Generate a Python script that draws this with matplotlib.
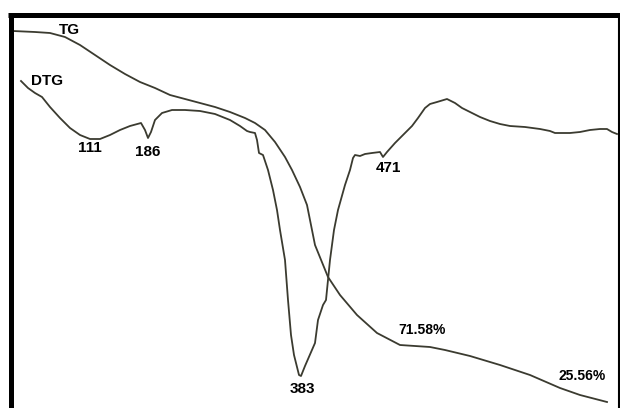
import numpy as np
import matplotlib.pyplot as plt

plt.rcParams['font.family'] = ['Liberation Sans', 'DejaVu Sans']

# curves (x, y in picture units, y grows downwards)
tg_x = [13, 35, 50, 65, 80, 95, 110, 125, 140, 155, 170, 185, 200, 215, 230,
        245, 255, 265, 275, 285, 292, 300, 307, 315, 328, 340, 357, 377, 400,
        430, 445, 470, 500, 530, 560, 580, 607]
tg_y = [31, 32, 33, 37, 45, 55, 65, 74, 82, 88, 95, 99, 103, 107, 112,
        118, 123, 130, 142, 157, 170, 187, 205, 245, 277, 295, 315, 333, 345,
        347, 350, 356, 365, 375, 388, 395, 402]

dtg_x = [21, 28, 35, 42, 50, 60, 70, 80, 90, 100, 110, 120, 130, 141, 145,
         148, 151, 155, 162, 172, 185, 200, 215, 230, 240, 247, 250, 255, 257,
         259, 263, 268, 273, 277, 280, 285, 288, 291, 294, 299, 301, 305, 315,
         318, 323, 326, 328, 330, 334, 338, 345, 350, 353, 355, 360, 365, 372,
         380, 383, 387, 395, 403, 412, 418, 425, 430, 437, 447, 455, 462, 470,
         480, 490, 500, 510, 525, 540, 550, 555, 570, 580, 590, 600, 607, 612,
         617]
dtg_y = [81, 88, 93, 97, 107, 118, 128, 135, 139, 139, 135, 130, 126, 123, 130,
         138, 132, 120, 113, 110, 110, 111, 114, 120, 126, 131, 132, 133, 140,
         153, 155, 170, 190, 210, 230, 260, 300, 335, 355, 375, 376, 366, 343,
         320, 305, 300, 280, 260, 230, 210, 185, 170, 158, 155, 156, 154, 153,
         152, 157, 152, 143, 135, 126, 118, 108, 104, 102, 99, 103, 108, 112,
         117, 121, 124, 126, 127, 129, 131, 133, 133, 132, 130, 129, 129, 132,
         134]

labels = ['TG', 'DTG', '111', '186', '471', '383', '71.58%', '25.56%']
label_x = [69, 47, 90, 148, 388, 302, 422, 582]
label_y = [30, 81, 148, 152, 168, 389, 330, 376]
label_size = [11, 11, 11, 11, 11, 11, 10, 10]

line_color = '#3b3b30'

fig = plt.figure(figsize=(6.2, 4.08), dpi=100)
ax = fig.add_axes([0, 0, 1, 1])
ax.set_xlim(0, 620)
ax.set_ylim(408, 0)
ax.axis('off')

ax.plot(tg_x, tg_y, color=line_color, lw=1.3)
ax.plot(dtg_x, dtg_y, color=line_color, lw=1.3)

for txt, x, y, s in zip(labels, label_x, label_y, label_size):
    ax.text(x, y, txt, ha='center', va='center', fontsize=s,
            fontweight='bold', color='black')

# frame (no bottom edge in the original)
ax.plot([10.5, 10.5], [408, 14.5], color='black', lw=3.6, solid_capstyle='butt')
ax.plot([8, 620], [14.5, 14.5], color='black', lw=3.6, solid_capstyle='butt')
ax.plot([619, 619], [14.5, 408], color='black', lw=1.5, solid_capstyle='butt')

fig.savefig('out.png', dpi=100)
